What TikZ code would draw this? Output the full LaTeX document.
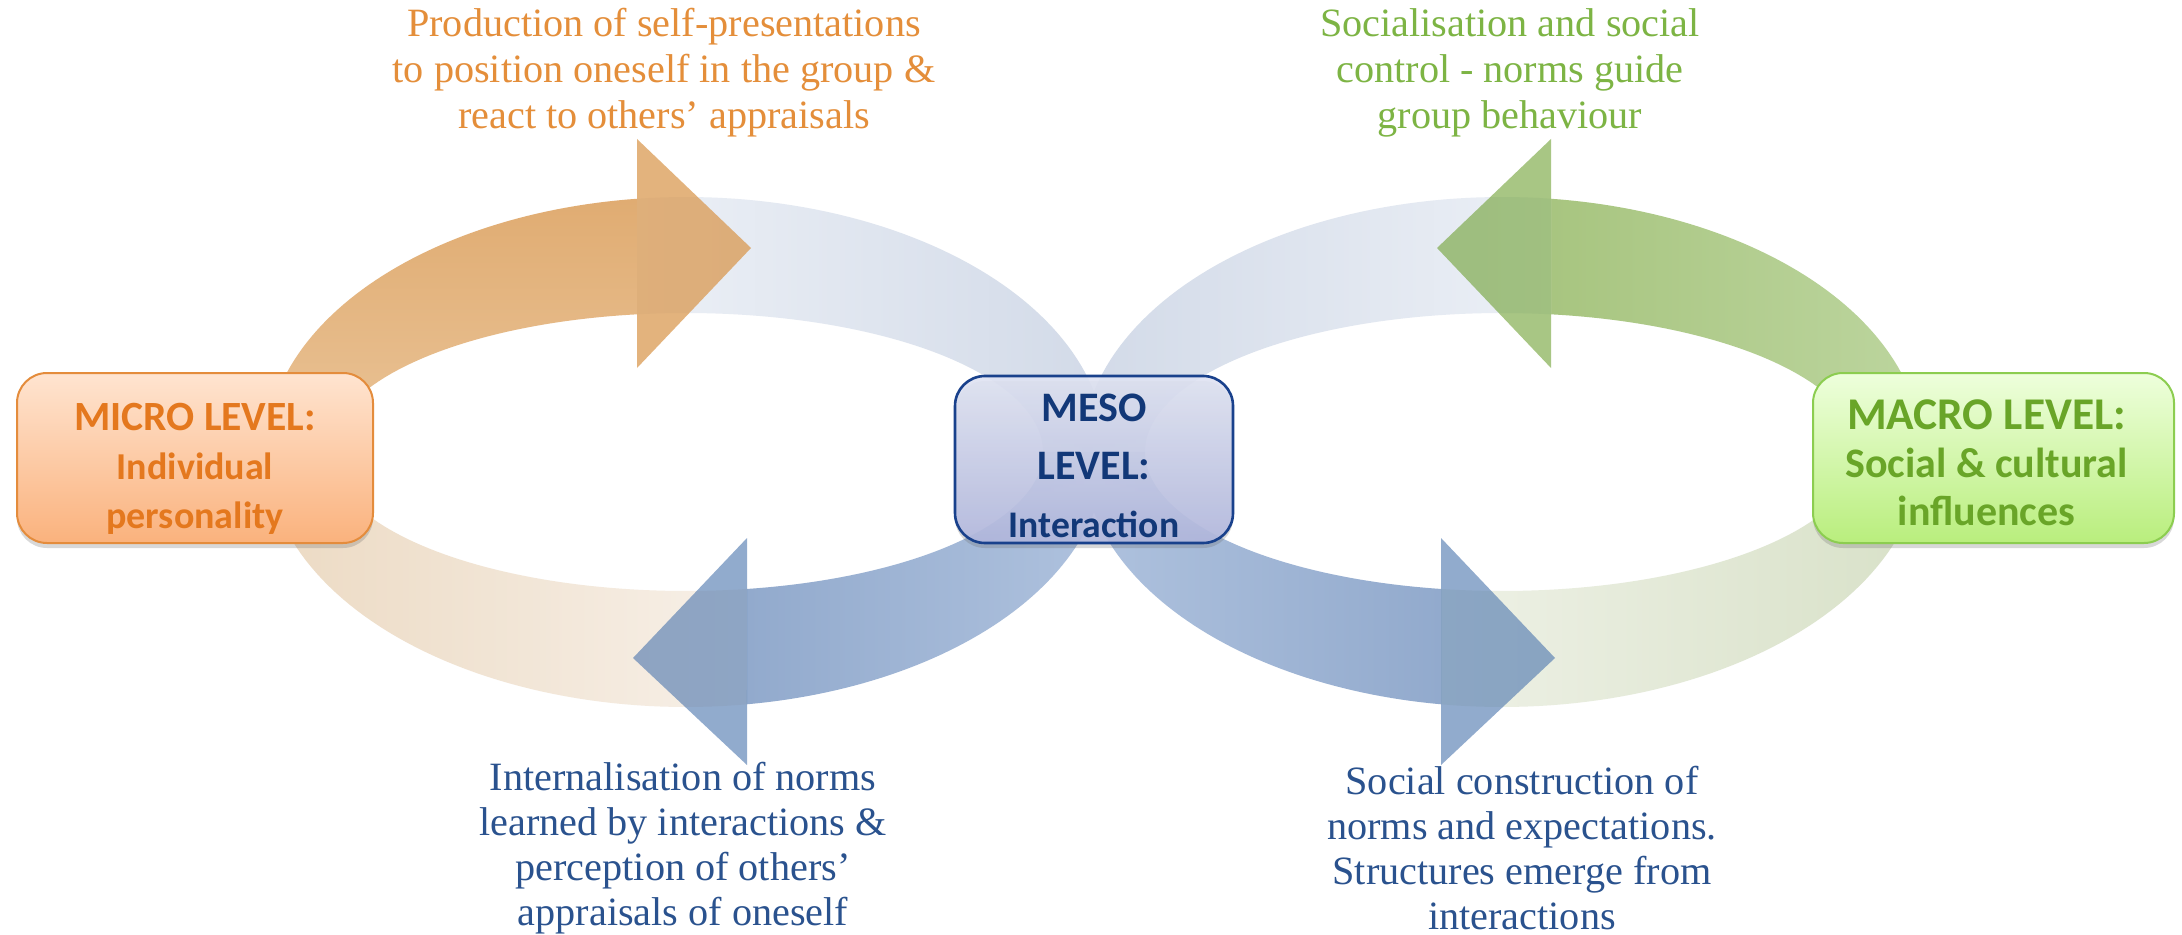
\documentclass[tikz,border=0pt]{standalone}
\usepackage{fontspec}
\setmainfont{Liberation Serif}
\newfontfamily\boxfont{Carlito}
\usetikzlibrary{shadows}
% arc colours
\definecolor{beigeA}{RGB}{236,218,195}
\definecolor{beigeB}{RGB}{247,240,232}
\definecolor{orgTop}{RGB}{224,172,114}
\definecolor{orgBot}{RGB}{234,196,152}
\definecolor{orgHead}{RGB}{217,150,75}
\definecolor{ltblA}{RGB}{236,240,246}
\definecolor{ltblB}{RGB}{210,218,232}
\definecolor{blA}{RGB}{146,170,205}
\definecolor{blB}{RGB}{175,194,222}
\definecolor{blHead}{RGB}{79,120,175}
\definecolor{grtA}{RGB}{238,241,230}
\definecolor{grtB}{RGB}{216,225,200}
\definecolor{grA}{RGB}{168,197,128}
\definecolor{grB}{RGB}{188,213,158}
\definecolor{grHead}{RGB}{110,160,50}
% box colours
\definecolor{miTop}{RGB}{255,228,208}
\definecolor{miBot}{RGB}{250,178,125}
\definecolor{miLine}{RGB}{228,140,60}
\definecolor{miText}{RGB}{228,120,30}
\definecolor{meTop}{RGB}{224,228,243}
\definecolor{meBot}{RGB}{178,184,222}
\definecolor{meLine}{RGB}{25,65,140}
\definecolor{meText}{RGB}{18,56,120}
\definecolor{maTop}{RGB}{238,255,220}
\definecolor{maBot}{RGB}{185,238,125}
\definecolor{maLine}{RGB}{140,205,80}
\definecolor{maText}{RGB}{105,165,40}
% label colours
\definecolor{lbOrange}{RGB}{228,142,58}
\definecolor{lbGreen}{RGB}{125,180,68}
\definecolor{lbBlue}{RGB}{42,82,142}
\begin{document}
\begin{tikzpicture}[x=0.5pt,y=-0.5pt,
  lvlbox/.style={rounded corners=15pt, minimum height=85pt, inner sep=0pt,
    align=center, line width=1pt,
    drop shadow={shadow xshift=0pt, shadow yshift=-2.5pt, opacity=0.25, fill=black!60}},
  lbl/.style={align=center, inner sep=0pt, font=\fontsize{20.1}{23}\selectfont},
  lblb/.style={align=center, inner sep=0pt, font=\fontsize{20.1}{22.6}\selectfont},
]
\useasboundingbox (0,0) rectangle (2182,935);
\fill[white] (0,0) rectangle (2182,935);

% ---------- left ring (cx = 686) ----------
\shade[left color=beigeA, right color=beigeB]
  plot[domain=81.65:180, samples=60] ({686+420*cos(\x)},{452+255*sin(\x)})
  -- plot[domain=180:80.16, samples=60] ({686+357*cos(\x)},{452+139*sin(\x)}) -- cycle;
\shade[top color=orgTop, bottom color=orgBot]
  plot[domain=180:263.30, samples=60] ({686+420*cos(\x)},{452+255*sin(\x)})
  -- plot[domain=262.11:180, samples=60] ({686+357*cos(\x)},{452+139*sin(\x)}) -- cycle;
\shade[left color=ltblA, right color=ltblB]
  plot[domain=263.30:360, samples=60] ({686+420*cos(\x)},{452+255*sin(\x)})
  -- plot[domain=360:262.11, samples=60] ({686+357*cos(\x)},{452+139*sin(\x)}) -- cycle;
\shade[left color=blA, right color=blB]
  plot[domain=0:81.65, samples=60] ({686+420*cos(\x)},{452+255*sin(\x)})
  -- plot[domain=80.16:0, samples=60] ({686+357*cos(\x)},{452+139*sin(\x)}) -- cycle;

% ---------- right ring (cx = 1502) ----------
\shade[left color=grtA, right color=grtB]
  plot[domain=0:98.35, samples=60] ({1502+420*cos(\x)},{452+255*sin(\x)})
  -- plot[domain=99.84:0, samples=60] ({1502+357*cos(\x)},{452+139*sin(\x)}) -- cycle;
\shade[left color=grA, right color=grB]
  plot[domain=276.70:360, samples=60] ({1502+420*cos(\x)},{452+255*sin(\x)})
  -- plot[domain=360:277.89, samples=60] ({1502+357*cos(\x)},{452+139*sin(\x)}) -- cycle;
\shade[left color=ltblB, right color=ltblA]
  plot[domain=180:276.70, samples=60] ({1502+420*cos(\x)},{452+255*sin(\x)})
  -- plot[domain=277.89:180, samples=60] ({1502+357*cos(\x)},{452+139*sin(\x)}) -- cycle;
\shade[left color=blB, right color=blA]
  plot[domain=98.35:180, samples=60] ({1502+420*cos(\x)},{452+255*sin(\x)})
  -- plot[domain=180:99.84, samples=60] ({1502+357*cos(\x)},{452+139*sin(\x)}) -- cycle;

% ---------- arrow heads ----------
\fill[orgHead, fill opacity=0.72] (637,139) -- (751,248) -- (637,368) -- cycle;
\fill[blHead, fill opacity=0.62] (747,538) -- (633,658) -- (747,765) -- cycle;
\fill[grHead, fill opacity=0.6] (1551,139) -- (1437,248) -- (1551,368) -- cycle;
\fill[blHead, fill opacity=0.62] (1441,538) -- (1555,658) -- (1441,765) -- cycle;

% ---------- level boxes ----------
\node[lvlbox, minimum width=178pt, draw=miLine, top color=miTop, bottom color=miBot,
      text=miText, font=\boxfont\bfseries\fontsize{19}{24.5}\selectfont] (micro) at (195,458)
  {{\fontsize{20.8}{24.5}\selectfont\rule{0pt}{24pt}MICRO LEVEL:}\\Individual\\personality};
\node[lvlbox, minimum width=139pt, minimum height=83.5pt, draw=meLine, line width=1.3pt,
      top color=meTop, bottom color=meBot, fill opacity=0.9, text opacity=1,
      text=meText, font=\boxfont\bfseries\fontsize{18.8}{29}\selectfont] (meso) at (1094,459.5)
  {{\fontsize{21}{29}\selectfont\rule{0pt}{20.5pt}MESO}\\{\fontsize{21}{29}\selectfont LEVEL:}\\Interaction};
\node[lvlbox, minimum width=180.5pt, draw=maLine, top color=maTop, bottom color=maBot,
      text=maText, font=\boxfont\bfseries\fontsize{21}{24}\selectfont] (macro) at (1993.5,458)
  {{\fontsize{22.7}{24}\selectfont\rule{0pt}{19.5pt}MACRO LEVEL:\kern7pt}\\Social \& cultural\kern7pt\\influences\kern7pt};

% ---------- labels ----------
\node[lbl, text=lbOrange] (tl) at (664,73)
  {Production of self-presentations\\to position oneself in the group \&\\react to others’ appraisals};
\node[lbl, text=lbGreen] (tr) at (1510,73)
  {Socialisation and social\\control - norms guide\\group behaviour};
\node[lblb, text=lbBlue] (bl) at (683,848)
  {Internalisation of norms\\learned by interactions \&\\perception of others’\\appraisals of oneself};
\node[lblb, text=lbBlue] (br) at (1522,848)
  {Social construction of\\norms and expectations.\\Structures emerge from\\interactions};
\end{tikzpicture}
\end{document}
